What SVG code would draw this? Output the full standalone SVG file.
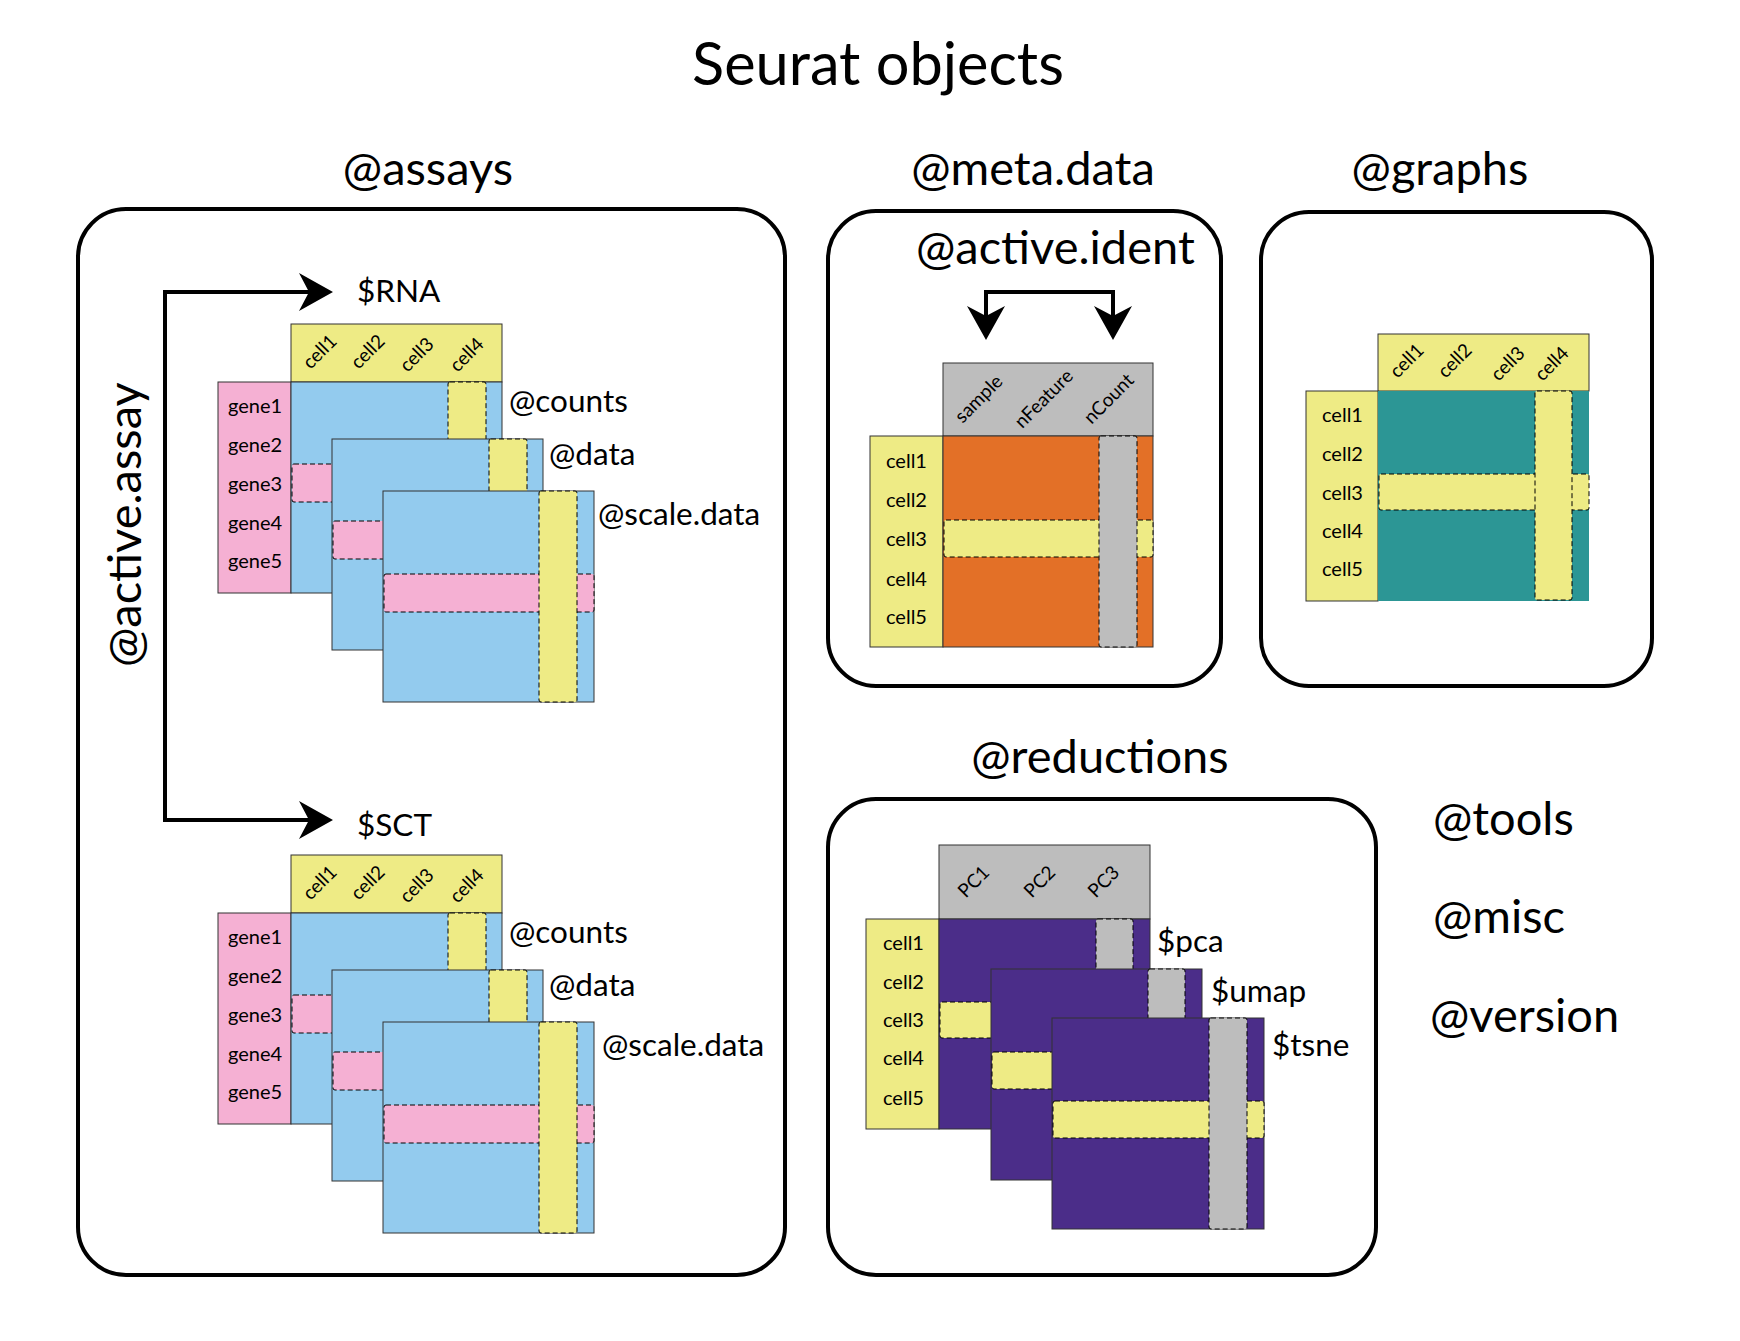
<svg xmlns="http://www.w3.org/2000/svg" width="1740" height="1341" viewBox="0 0 1740 1341">
<style>
text{font-family:Lato,"Liberation Sans",sans-serif;fill:#000}
.title{font-size:59.5px}
.sec{font-size:47px}
.side{font-size:47px}
.lab{font-size:31.5px}
.sm{font-size:20px}
.rot{font-size:19px;text-anchor:middle}
.mid{text-anchor:middle}
.box{fill:none;stroke:#000;stroke-width:4}
.mx{stroke:#333;stroke-width:1}
.hl{stroke:#000;stroke-width:1;stroke-dasharray:5 3}
.blue{fill:#93CBEE}
.pink{fill:#F5B0D3}
.yel{fill:#EEEB85}
.gray{fill:#BDBDBD}
.org{fill:#E37027}
.teal{fill:#2C9695}
.pur{fill:#4B2D89}
.conn{fill:none;stroke:#000;stroke-width:4;stroke-linejoin:miter}
</style>
<defs>
<marker id="arr" markerUnits="userSpaceOnUse" viewBox="-14 -21 38 42" refX="0" refY="0" markerWidth="38" markerHeight="42" orient="auto-start-reverse">
<path d="M22,0 L-12,-19 L-2,0 L-12,19 Z" fill="#000"/>
</marker>
</defs>
<rect width="1740" height="1341" fill="#fff"/>

<text class="title mid" x="878" y="85">Seurat objects</text>

<!-- assays -->
<g id="assays">
<text class="sec mid" x="428" y="185">@assays</text>
<rect class="box" x="78" y="209" width="707" height="1066" rx="48"/>
<text class="sec" transform="translate(141,667) rotate(-90)">@active.assay</text>
</g>

<g id="assay-rna">
<text class="lab" x="357" y="302">$RNA</text>
<rect class="yel mx" x="291" y="324" width="211" height="58"/>
<text class="rot" x="320" y="358" transform="rotate(-45 320 352)">cell1</text>
<text class="rot" x="368" y="358" transform="rotate(-45 368 352)">cell2</text>
<text class="rot" x="417" y="361" transform="rotate(-45 417 355)">cell3</text>
<text class="rot" x="467" y="361" transform="rotate(-45 467 355)">cell4</text>
<rect class="pink mx" x="218" y="382" width="73" height="211"/>
<text class="sm" x="228" y="413">gene1</text>
<text class="sm" x="228" y="452">gene2</text>
<text class="sm" x="228" y="491">gene3</text>
<text class="sm" x="228" y="530">gene4</text>
<text class="sm" x="228" y="568">gene5</text>
<rect class="blue mx" x="291" y="382" width="211" height="211"/>
<rect class="yel hl" x="448" y="382" width="38" height="211" rx="2"/>
<rect class="pink hl" x="292" y="464" width="209" height="38" rx="2"/>
<rect class="blue mx" x="332" y="439" width="211" height="211"/>
<rect class="yel hl" x="489" y="439" width="38" height="211" rx="2"/>
<rect class="pink hl" x="333" y="521" width="209" height="38" rx="2"/>
<rect class="blue mx" x="383" y="491" width="211" height="211"/>
<rect class="pink hl" x="384" y="574" width="210" height="38" rx="2"/>
<rect class="yel hl" x="539" y="491" width="38" height="211" rx="2"/>
<text class="lab" x="509" y="412">@counts</text>
<text class="lab" x="549" y="465">@data</text>
<text class="lab" x="598" y="525">@scale.data</text>
</g>

<g id="assay-sct">
<text class="lab" x="357" y="836">$SCT</text>
<rect class="yel mx" x="291" y="855" width="211" height="58"/>
<text class="rot" x="320" y="889" transform="rotate(-45 320 883)">cell1</text>
<text class="rot" x="368" y="889" transform="rotate(-45 368 883)">cell2</text>
<text class="rot" x="417" y="892" transform="rotate(-45 417 886)">cell3</text>
<text class="rot" x="467" y="892" transform="rotate(-45 467 886)">cell4</text>
<rect class="pink mx" x="218" y="913" width="73" height="211"/>
<text class="sm" x="228" y="944">gene1</text>
<text class="sm" x="228" y="983">gene2</text>
<text class="sm" x="228" y="1022">gene3</text>
<text class="sm" x="228" y="1061">gene4</text>
<text class="sm" x="228" y="1099">gene5</text>
<rect class="blue mx" x="291" y="913" width="211" height="211"/>
<rect class="yel hl" x="448" y="913" width="38" height="211" rx="2"/>
<rect class="pink hl" x="292" y="995" width="209" height="38" rx="2"/>
<rect class="blue mx" x="332" y="970" width="211" height="211"/>
<rect class="yel hl" x="489" y="970" width="38" height="211" rx="2"/>
<rect class="pink hl" x="333" y="1052" width="209" height="38" rx="2"/>
<rect class="blue mx" x="383" y="1022" width="211" height="211"/>
<rect class="pink hl" x="384" y="1105" width="210" height="38" rx="2"/>
<rect class="yel hl" x="539" y="1022" width="38" height="211" rx="2"/>
<text class="lab" x="509" y="943">@counts</text>
<text class="lab" x="549" y="996">@data</text>
<text class="lab" x="602" y="1056">@scale.data</text>
</g>

<!-- meta.data -->
<g id="metadata">
<text class="sec mid" x="1033" y="185">@meta.data</text>
<rect class="box" x="828" y="211" width="393" height="475" rx="48"/>
<text class="sec" x="916" y="264">@active.ident</text>
<rect class="gray mx" x="943" y="363" width="210" height="73"/>
<text class="rot" x="979" y="405" transform="rotate(-45 979 399)">sample</text>
<text class="rot" x="1044" y="405" transform="rotate(-45 1044 399)">nFeature</text>
<text class="rot" x="1109" y="405" transform="rotate(-45 1109 399)">nCount</text>
<rect class="yel mx" x="870" y="436" width="73" height="211"/>
<text class="sm" x="886" y="468">cell1</text>
<text class="sm" x="886" y="507">cell2</text>
<text class="sm" x="886" y="546">cell3</text>
<text class="sm" x="886" y="586">cell4</text>
<text class="sm" x="886" y="624">cell5</text>
<rect class="org mx" x="943" y="436" width="210" height="211"/>
<rect class="yel hl" x="944" y="520" width="209" height="37" rx="2"/>
<rect class="gray hl" x="1099" y="436" width="38" height="211" rx="2"/>
</g>

<!-- graphs -->
<g id="graphs">
<text class="sec mid" x="1440" y="185">@graphs</text>
<rect class="box" x="1261" y="212" width="391" height="474" rx="48"/>
<rect class="yel mx" x="1378" y="334" width="211" height="57"/>
<text class="rot" x="1407" y="367" transform="rotate(-45 1407 361)">cell1</text>
<text class="rot" x="1455" y="367" transform="rotate(-45 1455 361)">cell2</text>
<text class="rot" x="1508" y="370" transform="rotate(-45 1508 364)">cell3</text>
<text class="rot" x="1552" y="370" transform="rotate(-45 1552 364)">cell4</text>
<rect class="yel mx" x="1306" y="391" width="72" height="210"/>
<text class="sm" x="1322" y="422">cell1</text>
<text class="sm" x="1322" y="461">cell2</text>
<text class="sm" x="1322" y="500">cell3</text>
<text class="sm" x="1322" y="538">cell4</text>
<text class="sm" x="1322" y="576">cell5</text>
<rect class="teal" x="1378" y="391" width="211" height="210"/>
<rect class="yel hl" x="1379" y="474" width="210" height="36" rx="2"/>
<rect class="yel hl" x="1535" y="391" width="37" height="209" rx="2"/>
</g>

<!-- reductions -->
<g id="reductions">
<text class="sec mid" x="1100" y="773">@reductions</text>
<rect class="box" x="828" y="799" width="548" height="476" rx="48"/>
<rect class="gray mx" x="939" y="845" width="211" height="74"/>
<text class="rot" x="974" y="888" transform="rotate(-45 974 882)">PC1</text>
<text class="rot" x="1040" y="888" transform="rotate(-45 1040 882)">PC2</text>
<text class="rot" x="1104" y="888" transform="rotate(-45 1104 882)">PC3</text>
<rect class="yel mx" x="866" y="919" width="73" height="210"/>
<text class="sm" x="883" y="950">cell1</text>
<text class="sm" x="883" y="989">cell2</text>
<text class="sm" x="883" y="1027">cell3</text>
<text class="sm" x="883" y="1065">cell4</text>
<text class="sm" x="883" y="1105">cell5</text>
<rect class="pur mx" x="939" y="919" width="211" height="210"/>
<rect class="gray hl" x="1096" y="919" width="37" height="210" rx="2"/>
<rect class="yel hl" x="940" y="1002" width="210" height="36" rx="2"/>
<rect class="pur mx" x="991" y="969" width="211" height="211"/>
<rect class="gray hl" x="1148" y="969" width="37" height="211" rx="2"/>
<rect class="yel hl" x="992" y="1052" width="210" height="37" rx="2"/>
<rect class="pur mx" x="1052" y="1018" width="212" height="211"/>
<rect class="yel hl" x="1053" y="1101" width="211" height="37" rx="2"/>
<rect class="gray hl" x="1209" y="1018" width="38" height="211" rx="2"/>
<text class="lab" x="1157" y="952">$pca</text>
<text class="lab" x="1211" y="1002">$umap</text>
<text class="lab" x="1272" y="1056">$tsne</text>
</g>

<g id="tools"><text class="side" x="1433" y="835">@tools</text></g>
<g id="misc"><text class="side" x="1433" y="933">@misc</text></g>
<g id="version"><text class="side" x="1430" y="1032">@version</text></g>

<g id="connectors">
<path class="conn" d="M311,292 H165 V820 H311" marker-start="url(#arr)" marker-end="url(#arr)"/>
<path class="conn" d="M986,318 V292 H1113 V318" marker-start="url(#arr)" marker-end="url(#arr)"/>
</g>
</svg>
